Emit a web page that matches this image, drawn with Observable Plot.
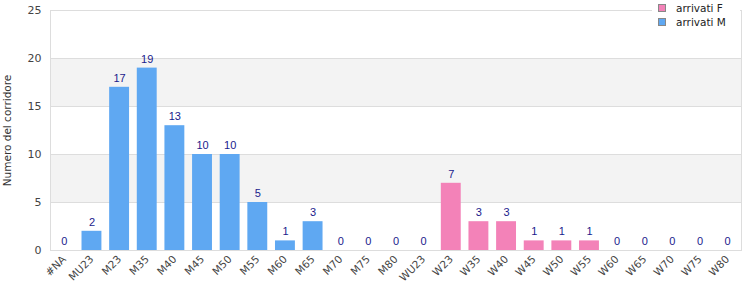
<!DOCTYPE html>
<html><head><meta charset="utf-8">
<script src="https://cdn.jsdelivr.net/npm/d3@7"></script>
<script src="https://cdn.jsdelivr.net/npm/@observablehq/plot@0.6"></script>
<style>
body{margin:0;background:#fff;font-family:"DejaVu Sans",sans-serif;}
#wrap{position:relative;width:750px;height:300px;}
#legend{position:absolute;left:652px;top:0;width:88px;height:30px;background:#fff;font-size:10.5px;color:#222;}
.li{position:absolute;left:6px;display:flex;align-items:center;}
.sw{width:8px;height:8px;border:1px solid #888;margin-right:10px;box-sizing:border-box;}
</style></head><body>
<div id="wrap"><div id="chart"></div>
<div id="legend">
<div class="li" style="top:2px"><div class="sw" style="background:#f382b8"></div>arrivati F</div>
<div class="li" style="top:16px"><div class="sw" style="background:#5fa8f2"></div>arrivati M</div>
</div></div>
<script>
const categories = ["#NA","MU23","M23","M35","M40","M45","M50","M55","M60","M65","M70","M75","M80","WU23","W23","W35","W40","W45","W50","W55","W60","W65","W70","W75","W80"];
const arrivatiM = [0,2,17,19,13,10,10,5,1,3,0,0,0,0,0,0,0,0,0,0,0,0,0,0,0];
const arrivatiF = [0,0,0,0,0,0,0,0,0,0,0,0,0,0,7,3,3,1,1,1,0,0,0,0,0];
const yTicks = [0,5,10,15,20,25];
const bandLo = [5,15];
const bandHi = [10,20];

const rows = [];
categories.forEach((c,i)=>{
  rows.push({cat:c, serie:"arrivati M", v:arrivatiM[i]});
  rows.push({cat:c, serie:"arrivati F", v:arrivatiF[i]});
});
const totals = categories.map((c,i)=>({cat:c, v:arrivatiM[i]+arrivatiF[i]}));
const bands = bandLo.map((lo,i)=>({lo, hi:bandHi[i]}));

const chart = Plot.plot({
  width:750, height:300,
  marginLeft:50, marginRight:9, marginTop:10, marginBottom:50,
  style:{fontFamily:"DejaVu Sans, sans-serif", fontSize:"10.5px", color:"#444", background:"#fff"},
  x:{domain:categories, paddingInner:0.28, paddingOuter:0.14, round:false, label:null},
  y:{domain:[0,25]},
  color:{domain:["arrivati M","arrivati F"], range:["#5fa8f2","#f382b8"]},
  marks:[
    Plot.rectY(bands,{y1:"lo", y2:"hi", fill:"#f3f3f3"}),
    Plot.gridY(yTicks,{stroke:"#dddddd", strokeOpacity:1}),
    Plot.frame({stroke:"#dddddd"}),
    Plot.barY(rows.filter(d=>d.v>0),{x:"cat", y:"v", fill:"serie"}),
    Plot.text(totals,{x:"cat", y:"v", text:d=>String(d.v), dy:-9, fill:"#1a1a8c", fontSize:11, fontFamily:"Liberation Sans, Arial, sans-serif"}),
    Plot.axisX({tickSize:0, tickRotate:-45, tickPadding:7, label:null, fill:"#444", fontSize:10.5}),
    Plot.axisY({ticks:yTicks, tickSize:0, tickPadding:9, label:null, fill:"#444", fontSize:11}),
    Plot.text(["Numero del corridore"],{frameAnchor:"left", textAnchor:"middle", dx:-43, rotate:-90, fill:"#333", fontSize:10.5})
  ]
});
document.getElementById("chart").appendChild(chart);
</script></body></html>
